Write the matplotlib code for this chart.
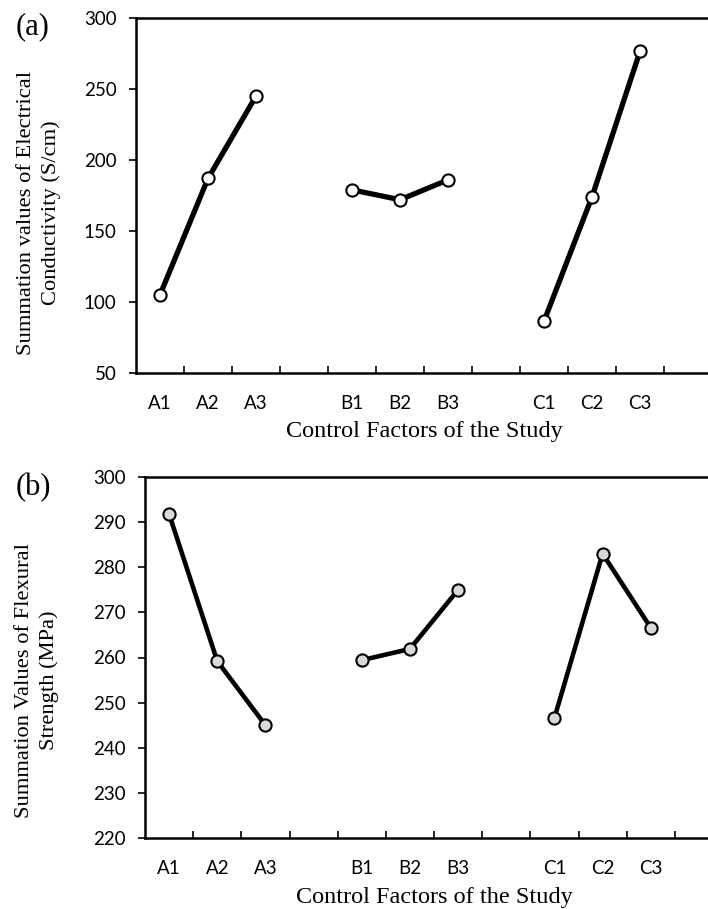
import matplotlib
matplotlib.use("Agg")
import matplotlib.pyplot as plt
import numpy as np

categories = ["A1", "A2", "A3", "B1", "B2", "B3", "C1", "C2", "C3"]
groups = [["A1", "A2", "A3"], ["B1", "B2", "B3"], ["C1", "C2", "C3"]]
conductivity = [105, 187, 245, 179, 172, 186, 86.5, 174, 276.5]
flexural = [291.8, 259.2, 245.0, 259.4, 261.9, 275.0, 246.6, 283.0, 266.6]

# slot positions (12 slots: three groups of 3 with a blank slot after each)
slot_pos = [0.5, 1.5, 2.5, 4.5, 5.5, 6.5, 8.5, 9.5, 10.5]

W, H = 708, 909
fig = plt.figure(figsize=(W / 100, H / 100), dpi=100)

serif = "Liberation Serif"
sans = "Lato"


def make_panel(rect, values, ylim, yticks, face, lw, ylabel, tag, tag_xy, ylab_xy, xlab_xy):
    ax = fig.add_axes(rect)
    for g in range(3):
        xs = slot_pos[3 * g:3 * g + 3]
        ys = values[3 * g:3 * g + 3]
        ax.plot(xs, ys, color="black", lw=lw, solid_capstyle="round", zorder=2)
        ax.plot(xs, ys, ls="none", marker="o", ms=8.8, mfc=face, mec="black", mew=1.5, zorder=3)
    ax.set_xlim(0, 12)
    ax.set_ylim(*ylim)
    ax.set_yticks(yticks)
    ax.set_yticklabels([str(t) for t in yticks], fontfamily=sans, fontsize=13.5)
    ax.set_xticks(slot_pos)
    ax.set_xticklabels(categories, fontfamily=sans, fontsize=13.5)
    ax.tick_params(axis="x", which="major", length=0, pad=16)
    ax.set_xticks(np.arange(1, 12), minor=True)
    ax.tick_params(axis="x", which="minor", direction="in", length=5, width=1.2)
    ax.tick_params(axis="y", direction="out", length=5, width=1.2, pad=9)
    for s in ["left", "bottom", "top"]:
        ax.spines[s].set_linewidth(1.8)
    ax.spines["right"].set_visible(False)
    fig.text(ylab_xy[0] / W, 1 - ylab_xy[1] / H, ylabel, rotation=90, ha="center", va="center",
             fontfamily=serif, fontsize=16.2, linespacing=1.3)
    fig.text(xlab_xy[0] / W, 1 - xlab_xy[1] / H, "Control Factors of the Study", ha="center", va="center",
             fontfamily=serif, fontsize=17.5)
    fig.text(tag_xy[0] / W, 1 - tag_xy[1] / H, tag, ha="center", va="center", fontfamily=serif, fontsize=22)
    return ax


# top panel: left 136, right 712, top 18, bottom 373 (pixels)
make_panel([136 / W, 1 - 373 / H, 576 / W, 355 / H], conductivity, (50, 300), [50, 100, 150, 200, 250, 300],
           "white", 3.8, "Summation values of Electrical\nConductivity (S/cm)", "(a)", (33, 27), (39, 213), (424, 432))

# bottom panel: left 145, right 723, top 477, bottom 838
make_panel([145 / W, 1 - 838 / H, 578 / W, 361 / H], flexural, (220, 300), list(range(220, 301, 10)),
           "#d9d9d9", 3.3, "Summation Values of Flexural\nStrength (MPa)", "(b)", (33, 488), (37, 680), (434, 897))

fig.savefig("out.png", dpi=100, facecolor="white")
